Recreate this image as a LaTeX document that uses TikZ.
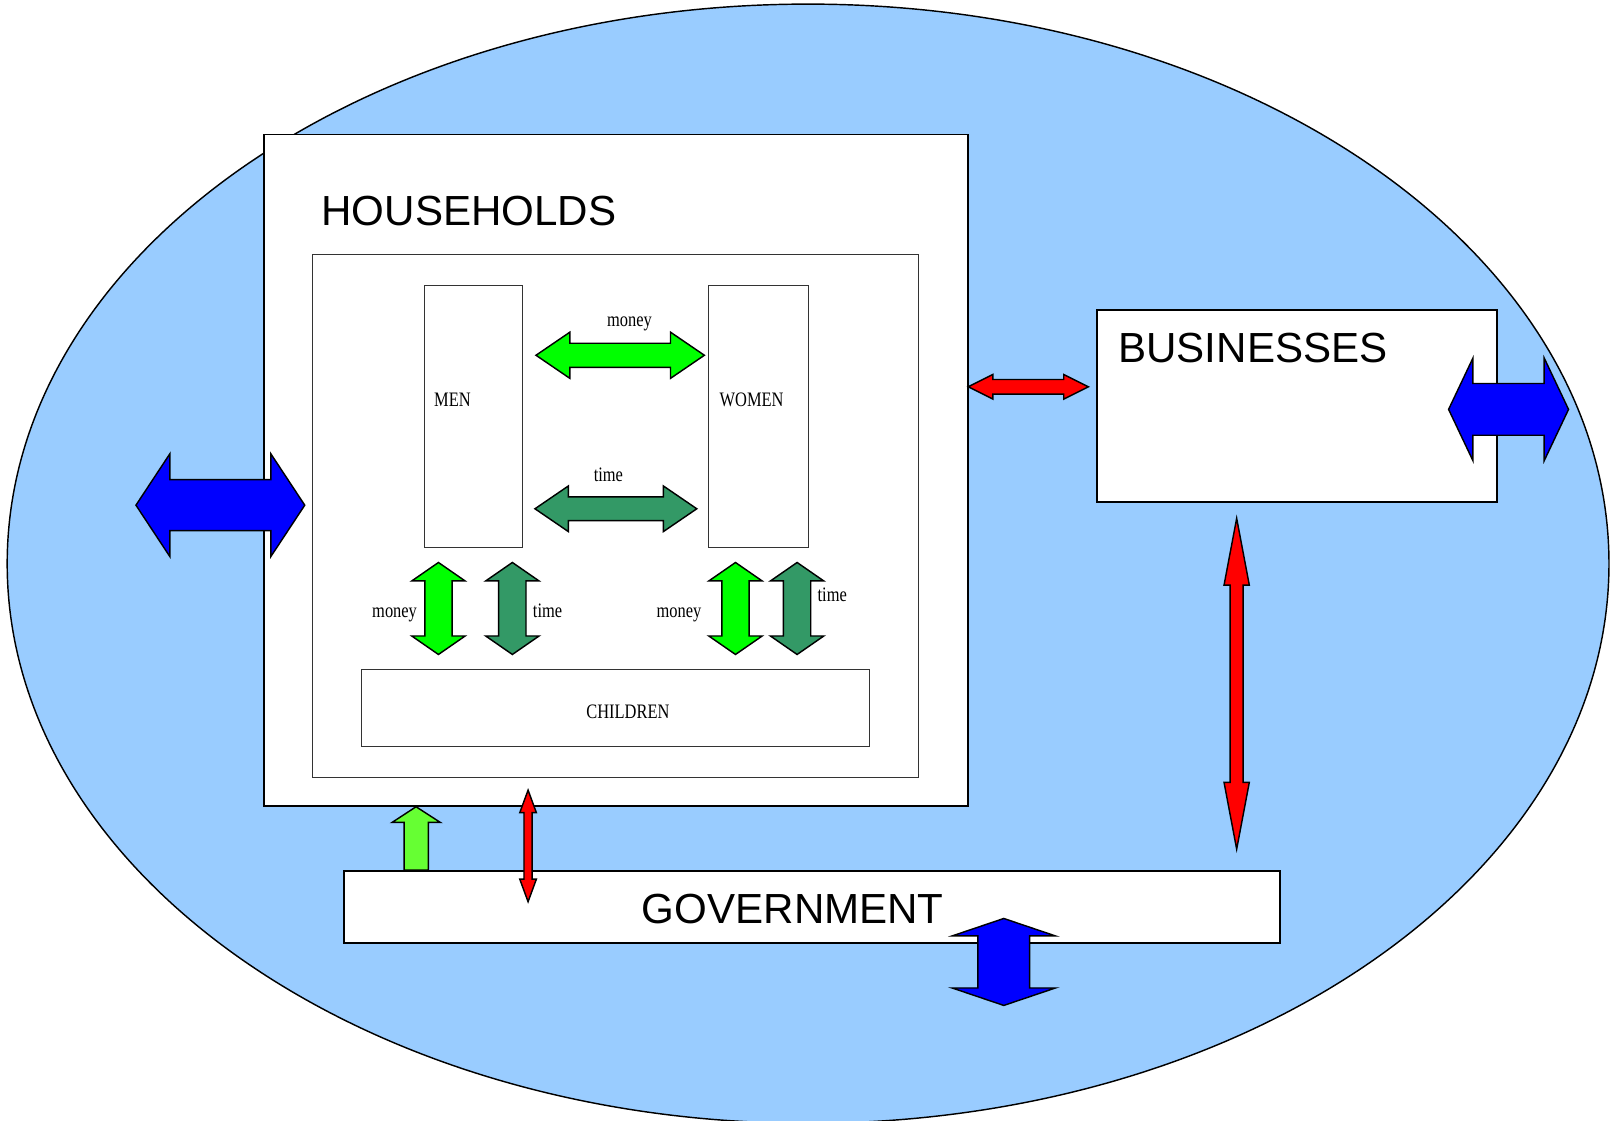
\documentclass[tikz,border=0pt]{standalone}
\usepackage{fontspec}
\setmainfont{Liberation Sans}
\newfontfamily\serifc[FakeStretch=0.8]{Liberation Serif}
\definecolor{skyfill}{HTML}{99CCFF}
\definecolor{moneygreen}{HTML}{00FF00}
\definecolor{timegreen}{HTML}{339966}
\definecolor{litegreen}{HTML}{66FF33}
\definecolor{bluearr}{HTML}{0000FF}
\definecolor{redarr}{HTML}{FF0000}
\newcommand\hdarr[7]{% x1 x2 y L H h colour
  \filldraw[blockarrow, fill=#7] (#1,#3) -- (#1+#4,#3-#5) -- (#1+#4,#3-#6) -- (#2-#4,#3-#6) -- (#2-#4,#3-#5) -- (#2,#3) -- (#2-#4,#3+#5) -- (#2-#4,#3+#6) -- (#1+#4,#3+#6) -- (#1+#4,#3+#5) -- cycle;}
\newcommand\vdarr[7]{% y1 y2 x L H h colour
  \filldraw[blockarrow, fill=#7] (#3,#1) -- (#3+#5,#1+#4) -- (#3+#6,#1+#4) -- (#3+#6,#2-#4) -- (#3+#5,#2-#4) -- (#3,#2) -- (#3-#5,#2-#4) -- (#3-#6,#2-#4) -- (#3-#6,#1+#4) -- (#3-#5,#1+#4) -- cycle;}
\begin{document}
\begin{tikzpicture}[x=1pt,y=-1pt,
  thickbox/.style={draw=black, fill=white, line width=1.8pt, inner sep=0pt},
  thinbox/.style={draw=black!80, fill=white, line width=1pt, inner sep=0pt},
  blockarrow/.style={draw=black, line width=1.4pt, line join=miter},
  bigtext/.style={font=\fontsize{41}{41}\selectfont, inner sep=0pt, anchor=base west},
  smalltext/.style={font=\serifc\fontsize{20}{20}\selectfont, inner sep=0pt, anchor=base}]
\useasboundingbox (0,0) rectangle (1568,1091);
% economy ellipse
\filldraw[fill=skyfill, draw=black, line width=1.4pt] (787,549) ellipse [x radius=780, y radius=545];
% boxes
\node[thickbox, minimum width=686pt, minimum height=654pt] (hh) at (600,458) {};
\node[thinbox, minimum width=591pt, minimum height=509pt] (inner) at (599.5,502.5) {};
\node[thinbox, minimum width=96pt, minimum height=255pt] (men) at (461,405.5) {};
\node[thinbox, minimum width=97pt, minimum height=255pt] (women) at (738.5,405.5) {};
\node[thinbox, minimum width=495pt, minimum height=75pt] (children) at (599.5,689.5) {};
\node[thickbox, minimum width=390pt, minimum height=187pt] (bus) at (1263,395.5) {};
\node[thickbox, minimum width=912pt, minimum height=70pt] (gov) at (791,883) {};
% labels
\node[bigtext] (hhlabel) at (313,219.5) {HOUSEHOLDS};
\node[bigtext] (buslabel) at (1089,353.3) {BUSINESSES};
\node[bigtext] (govlabel) at (625,899.3) {GOVERNMENT};
\node[smalltext] (menlabel) at (440.6,396) {MEN};
\node[smalltext] (womenlabel) at (732,396) {WOMEN};
\node[smalltext] (childlabel) at (611.5,699.7) {CHILDREN};
\node[smalltext] (mw-money) at (613,318) {money};
\node[smalltext] (mw-time) at (592.5,469) {time};
\node[smalltext] (mc-money) at (384.3,601.3) {money};
\node[smalltext] (mc-time) at (533.3,601.3) {time};
\node[smalltext] (wc-money) at (661.3,601.3) {money};
\node[smalltext] (wc-time) at (810.5,586) {time};
% arrows inside household
\hdarr{522}{686}{346}{33}{22.5}{11.7}{moneygreen}
\hdarr{521}{678.6}{495.5}{32.5}{22.2}{11.6}{timegreen}
\vdarr{547.8}{637.4}{427}{18}{26}{13.3}{moneygreen}
\vdarr{547.8}{637.4}{499}{18}{26}{13.3}{timegreen}
\vdarr{547.8}{637.4}{716.3}{18}{26}{13.3}{moneygreen}
\vdarr{547.8}{637.4}{776.3}{18}{26}{13.3}{timegreen}
% household <-> business
\hdarr{943}{1060}{376.7}{24}{12}{7.1}{redarr}
% external blue arrows
\hdarr{132.4}{296.8}{492}{33}{50}{24.8}{bluearr}
\hdarr{1410.8}{1527.6}{398.7}{23.7}{50}{25.2}{bluearr}
\vdarr{894.5}{979.2}{977.6}{17}{50.3}{25.2}{bluearr}
% business <-> government
\vdarr{504.8}{827}{1204.4}{65}{12.3}{6.3}{redarr}
% government -> household
\filldraw[blockarrow, fill=litegreen] (405.2,785.7) -- (428.9,801) -- (417.2,801) -- (417.2,847.4) -- (393.5,847.4) -- (393.5,801) -- (381.8,801) -- cycle;
% household <-> government
\vdarr{769.5}{878.2}{514.3}{22}{8.1}{4}{redarr}
\end{tikzpicture}
\end{document}
